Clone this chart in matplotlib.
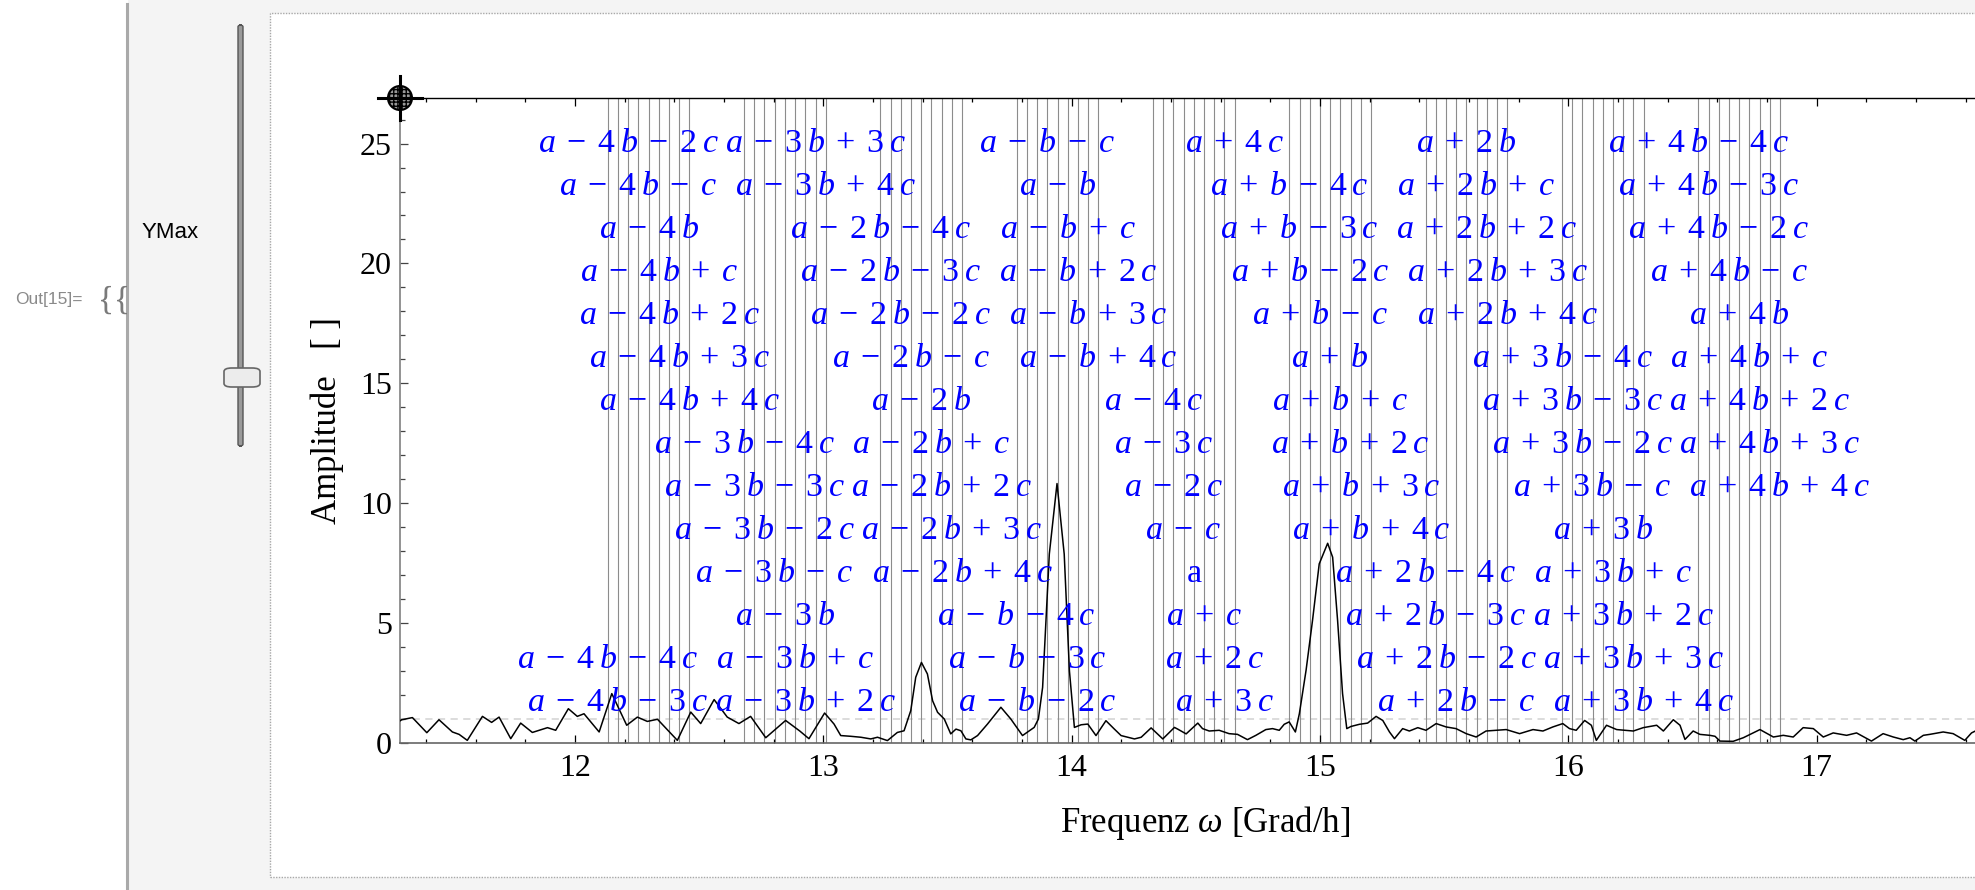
import matplotlib
matplotlib.use("Agg")
import matplotlib.pyplot as plt
from matplotlib.patches import Rectangle, Circle, FancyBboxPatch
from matplotlib.lines import Line2D
from matplotlib.ticker import MultipleLocator
from matplotlib.transforms import IdentityTransform

plt.rcParams["font.family"] = ["Liberation Serif", "DejaVu Serif"]
plt.rcParams["mathtext.fontset"] = "custom"
plt.rcParams["mathtext.rm"] = "Liberation Serif"
plt.rcParams["mathtext.it"] = "Liberation Serif:italic"
plt.rcParams["mathtext.bf"] = "Liberation Serif:bold"

# ---------------- data ----------------
# base frequencies [Grad/h]
A_FREQ = 14.4921
B_FREQ = 0.5490
C_FREQ = 0.0411
N_COEFS = [-4, -3, -2, -1, 0, 1, 2, 3, 4]
M_COEFS = [-4, -3, -2, -1, 0, 1, 2, 3, 4]

# amplitude spectrum
FREQ = [11.296, 11.302, 11.345, 11.403, 11.452, 11.506, 11.533, 11.566, 11.627, 11.664,
        11.694, 11.741, 11.781, 11.828, 11.889, 11.922, 11.973, 12.009, 12.036, 12.097,
        12.148, 12.208, 12.251, 12.291, 12.332, 12.412, 12.466, 12.506, 12.560, 12.613,
        12.660, 12.707, 12.768, 12.848, 12.905, 12.942, 13.005, 13.043, 13.070, 13.110,
        13.151, 13.191, 13.218, 13.258, 13.298, 13.325, 13.352, 13.372, 13.395, 13.419,
        13.440, 13.460, 13.487, 13.513, 13.534, 13.554, 13.574, 13.594, 13.621, 13.661,
        13.715, 13.755, 13.802, 13.849, 13.866, 13.883, 13.910, 13.941, 13.970, 13.991,
        14.011, 14.038, 14.065, 14.098, 14.138, 14.172, 14.199, 14.253, 14.280, 14.320,
        14.367, 14.414, 14.427, 14.461, 14.508, 14.527, 14.554, 14.594, 14.634, 14.668,
        14.708, 14.742, 14.782, 14.809, 14.836, 14.856, 14.876, 14.901, 14.917, 14.944,
        14.970, 14.997, 15.031, 15.051, 15.071, 15.091, 15.108, 15.125, 15.159, 15.192,
        15.226, 15.253, 15.280, 15.300, 15.333, 15.360, 15.394, 15.427, 15.468, 15.508,
        15.548, 15.589, 15.629, 15.669, 15.710, 15.750, 15.804, 15.858, 15.898, 15.938,
        15.978, 16.005, 16.032, 16.066, 16.093, 16.113, 16.154, 16.195, 16.228, 16.262,
        16.302, 16.356, 16.383, 16.423, 16.450, 16.470, 16.503, 16.530, 16.570, 16.591,
        16.611, 16.664, 16.705, 16.772, 16.826, 16.866, 16.906, 16.946, 16.987, 17.027,
        17.067, 17.121, 17.161, 17.221, 17.268, 17.309, 17.349, 17.376, 17.396, 17.430,
        17.456, 17.510, 17.550, 17.597, 17.624, 17.651]
AMP = [0.93, 0.97, 1.06, 0.43, 0.97, 0.46, 0.36, 0.11, 1.11, 0.86,
       1.08, 0.18, 0.83, 0.44, 0.64, 0.53, 1.43, 1.11, 1.22, 0.46,
       2.06, 0.74, 1.08, 0.90, 0.99, 0.11, 1.29, 0.81, 1.81, 1.08,
       0.81, 1.11, 0.22, 0.94, 0.50, 0.18, 1.25, 0.79, 0.31, 0.28,
       0.24, 0.17, 0.24, 0.10, 0.44, 0.51, 1.35, 2.74, 3.36, 2.88,
       1.76, 1.28, 1.00, 0.38, 0.58, 0.51, 0.17, 0.13, 0.31, 0.79,
       1.49, 1.00, 0.31, 0.65, 1.00, 2.32, 7.88, 10.82, 7.88, 3.01,
       0.65, 0.76, 0.79, 0.31, 0.93, 0.58, 0.31, 0.17, 0.24, 0.63,
       0.17, 0.65, 0.58, 0.38, 0.83, 0.60, 0.50, 0.53, 0.39, 0.36,
       0.14, 0.32, 0.56, 0.60, 0.53, 0.78, 0.88, 0.46, 1.22, 3.03,
       5.11, 7.47, 8.33, 7.75, 5.11, 2.06, 0.60, 0.69, 0.78, 0.83,
       1.11, 0.94, 0.46, 0.18, 0.60, 0.50, 0.64, 0.53, 0.81, 0.67,
       0.60, 0.39, 0.25, 0.50, 0.53, 0.56, 0.39, 0.56, 0.50, 0.67,
       0.81, 0.60, 0.53, 0.94, 0.74, 0.11, 0.74, 0.56, 0.53, 0.50,
       0.64, 0.74, 0.50, 0.97, 0.74, 0.15, 0.50, 0.36, 0.32, 0.28,
       0.08, 0.07, 0.22, 0.56, 0.25, 0.32, 0.25, 0.64, 0.60, 0.25,
       0.42, 0.32, 0.42, 0.08, 0.39, 0.25, 0.14, 0.22, 0.08, 0.32,
       0.36, 0.46, 0.39, 0.11, 0.42, 0.56]

Y_MAX = 26.9
X_MIN, X_MAX = 11.295, 17.779
X_MAJOR = [12, 13, 14, 15, 16, 17]
Y_MAJOR = [0, 5, 10, 15, 20, 25]

# ---------------- figure ----------------
W, H = 1975, 890
fig = plt.figure(figsize=(W / 100, H / 100), dpi=100)
fig.patch.set_facecolor("white")


def fx(px):
    return px / W


def fy(py):
    return 1 - py / H


# notebook background
fig.add_artist(Rectangle((fx(128), 0), 1, 1, transform=fig.transFigure,
                         facecolor="#f4f4f4", edgecolor="none", zorder=-3))
fig.add_artist(Rectangle((fx(270), fy(877)), fx(1800), (877 - 13) / H,
                         transform=fig.transFigure, facecolor="white",
                         edgecolor="#a8a8a8", linestyle=(0, (1, 1)), lw=1, zorder=-2))
fig.add_artist(Line2D([fx(126.5)] * 2, [fy(4), 0], color="#a9a9a9", lw=2.2,
                      transform=fig.transFigure, zorder=-1))

fig.text(fx(15), fy(300), "Out[15]=", fontsize=12.5, color="#8a8a8a",
         family="Liberation Sans", ha="left", va="center")
fig.text(fx(98), fy(301), "{{", fontsize=24, color="#7a7a7a",
         ha="left", va="center")
fig.text(fx(142), fy(233), "YMax", fontsize=16, color="black",
         family="Liberation Sans", ha="left", va="center")

# slider
fig.add_artist(FancyBboxPatch((fx(238), fy(446)), fx(5), (446 - 25) / H,
                              boxstyle="round,pad=0.0,rounding_size=0.002",
                              transform=fig.transFigure, facecolor="#9a9a9a",
                              edgecolor="#555555", lw=1, zorder=1))
fig.add_artist(FancyBboxPatch((fx(224), fy(387)), fx(36), (387 - 368) / H,
                              boxstyle="round,pad=0.0,rounding_size=0.004",
                              transform=fig.transFigure, facecolor="#ececec",
                              edgecolor="#666666", lw=1.2, zorder=2))

# ---------------- axes ----------------
ax = fig.add_axes([fx(400), fy(743), (2010 - 400) / W, (743 - 98) / H])
ax.patch.set_alpha(0)
ax.set_xlim(X_MIN, X_MAX)
ax.set_ylim(0, Y_MAX)

ax.spines["right"].set_visible(False)
ax.spines["top"].set_color("black")
ax.spines["top"].set_linewidth(1.0)
ax.spines["left"].set_color("#808080")
ax.spines["left"].set_linewidth(1.2)
ax.spines["bottom"].set_color("#666666")
ax.spines["bottom"].set_linewidth(1.2)

ax.set_xticks(X_MAJOR)
ax.set_xticklabels([str(v) for v in X_MAJOR])
ax.set_yticks(Y_MAJOR)
ax.set_yticklabels([str(v) for v in Y_MAJOR])
ax.xaxis.set_minor_locator(MultipleLocator(0.2))
ax.yaxis.set_minor_locator(MultipleLocator(1))
ax.tick_params(axis="x", which="both", direction="in", top=True, bottom=True,
               labeltop=False, labelsize=23, color="black", width=0.9)
ax.tick_params(axis="x", which="major", length=5.8, pad=8)
ax.tick_params(axis="x", which="minor", length=3.2)
ax.tick_params(axis="y", which="both", direction="in", left=True, right=False,
               labelsize=23, color="#444444", width=0.9)
ax.tick_params(axis="y", which="major", length=6.0, pad=6)
ax.tick_params(axis="y", which="minor", length=3.6)

# reference dashed line
ax.axhline(1.0, color="#d9d9d9", lw=1.3, ls=(0, (4, 3)), zorder=1)


# combination lines and labels
def term(k, sym):
    if k == 0:
        return ""
    sign = "+" if k > 0 else "-"
    coef = "" if abs(k) == 1 else f"{abs(k)}\\:"
    return f"\\;{sign}\\;{coef}{sym}"


idx = 0
line_freqs = []
for n in N_COEFS:
    for m in M_COEFS:
        f = A_FREQ + n * B_FREQ + m * C_FREQ
        line_freqs.append(f)
        row = (idx + 12) % 14
        y = Y_MAX * (14 - row) / 15 - 0.12
        if n == 0 and m == 0:
            s = "a"
        else:
            s = "$a" + term(n, "b") + term(m, "c") + "$"
        ax.text(f, y, s, color="#0000ff", fontsize=24.5, ha="center", va="center",
                zorder=4)
        idx += 1

ax.vlines(line_freqs, 0, Y_MAX, colors="#8c8c8c", lw=0.8, zorder=1)

ax.plot(FREQ, AMP, color="black", lw=1.1, zorder=3)

# axis labels
fig.text(fx(1205), fy(823), r"Frequenz $\omega$ [Grad/h]", fontsize=25,
         ha="center", va="center")
fig.text(fx(327), fy(421), "Amplitude   [ ]", fontsize=25, rotation=90,
         ha="center", va="center")

# locator crosshair
cx, cy = 400, H - 98
fig.add_artist(Circle((cx, cy), 12, transform=IdentityTransform(),
                      facecolor="#9a9a9a", edgecolor="black", lw=1.5,
                      hatch="++++", zorder=10))
fig.add_artist(Line2D([cx - 22, cx + 22], [cy, cy], color="black", lw=2.2,
                      transform=IdentityTransform(), zorder=11))
fig.add_artist(Line2D([cx, cx], [cy - 22, cy + 22], color="black", lw=2.2,
                      transform=IdentityTransform(), zorder=11))

fig.savefig("out.png", dpi=100)
